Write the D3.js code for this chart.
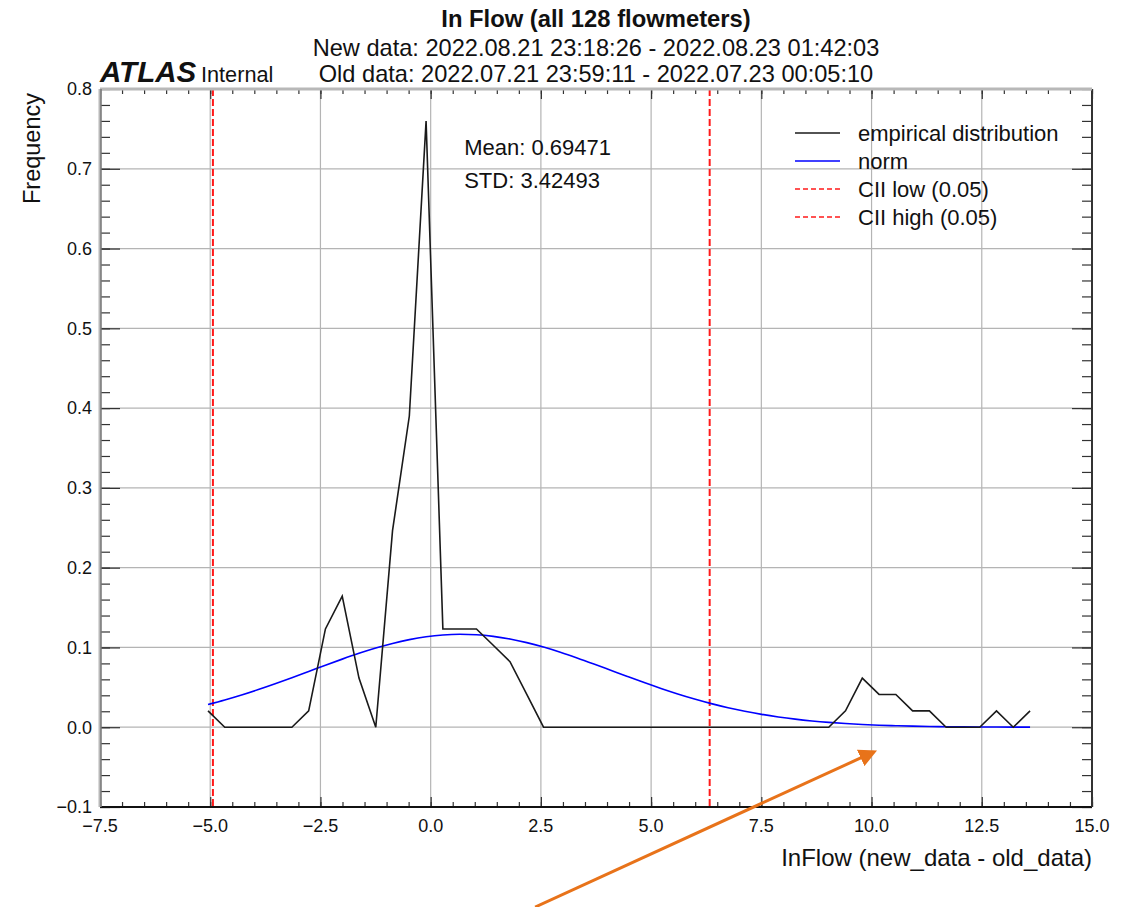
<!DOCTYPE html>
<html>
<head>
<meta charset="utf-8">
<script src="https://cdn.jsdelivr.net/npm/d3@7"></script>
<style>
  html, body { margin: 0; padding: 0; background: #fff; }
  svg text { font-family: "Liberation Sans", Arial, Helvetica, sans-serif; fill: #111; }
</style>
</head>
<body>
<svg id="chart" width="1132" height="907"></svg>
<script>
// Bin positions of the flow-difference histogram (InFlow new - old)
const binX = [
  -5.050, -4.670, -4.289, -3.909, -3.528, -3.148, -2.767, -2.387, -2.006, -1.626,
  -1.245, -0.865, -0.484, -0.104, 0.277, 0.658, 1.038, 1.419, 1.799, 2.180,
  2.560, 2.941, 3.321, 3.702, 4.082, 4.463, 4.843, 5.224, 5.604, 5.985,
  6.365, 6.746, 7.126, 7.507, 7.887, 8.268, 8.648, 9.029, 9.409, 9.790,
  10.170, 10.551, 10.931, 11.312, 11.692, 12.073, 12.453, 12.834, 13.214, 13.595
];

// Empirical frequency in each bin
const empirical = [
  0.0205, 0, 0, 0, 0, 0, 0.0205, 0.1232, 0.1643, 0.0616,
  0, 0.2464, 0.3901, 0.7597, 0.1232, 0.1232, 0.1232, 0.1027, 0.0821, 0.0411,
  0, 0, 0, 0, 0, 0, 0, 0, 0, 0,
  0, 0, 0, 0, 0, 0, 0, 0, 0.0205, 0.0616,
  0.0411, 0.0411, 0.0205, 0.0205, 0, 0, 0, 0.0205, 0, 0.0205
];

// Fitted normal density at the same positions
const normFit = [
  0.02853, 0.03416, 0.04041, 0.04720, 0.05447, 0.06208, 0.06989, 0.07771, 0.08536, 0.09259,
  0.09922, 0.10501, 0.10978, 0.11336, 0.11562, 0.11648, 0.11590, 0.11391, 0.11058, 0.10603,
  0.10043, 0.09394, 0.08681, 0.07922, 0.07142, 0.06359, 0.05594, 0.04859, 0.04170, 0.03533,
  0.02958, 0.02446, 0.01998, 0.01611, 0.01284, 0.01010, 0.00786, 0.00603, 0.00458, 0.00343,
  0.00254, 0.00185, 0.00134, 0.00095, 0.00067, 0.00047, 0.00032, 0.00022, 0.00015, 0.00010
];

const statMean = 0.69471;
const statStd = 3.42493;
const ciiLow = -4.9388;
const ciiHigh = 6.3282;

const xTicks = [-7.5, -5.0, -2.5, 0.0, 2.5, 5.0, 7.5, 10.0, 12.5, 15.0];
const yTicks = [-0.1, 0.0, 0.1, 0.2, 0.3, 0.4, 0.5, 0.6, 0.7, 0.8];

const legendLabels = ["empirical distribution", "norm", "CII low (0.05)", "CII high (0.05)"];

const titleText = "In Flow (all 128 flowmeters)";
const subtitleLines = [
  "New data: 2022.08.21 23:18:26 - 2022.08.23 01:42:03",
  "Old data: 2022.07.21 23:59:11 - 2022.07.23 00:05:10"
];

// ---------------------------------------------------------------
const svg = d3.select("#chart");
const M = { left: 100, right: 1092, top: 89, bottom: 807 };

const x = d3.scaleLinear().domain([-7.5, 15.0]).range([M.left, M.right]);
const y = d3.scaleLinear().domain([-0.1, 0.8]).range([M.bottom, M.top]);

// grid
const grid = svg.append("g");
grid.selectAll("line.gx").data(xTicks.slice(1, -1)).join("line")
  .attr("x1", d => x(d)).attr("x2", d => x(d))
  .attr("y1", M.top).attr("y2", M.bottom)
  .attr("stroke", "#b4b4b4").attr("stroke-width", 1.2);
grid.selectAll("line.gy").data(yTicks.slice(1, -1)).join("line")
  .attr("y1", d => y(d)).attr("y2", d => y(d))
  .attr("x1", M.left).attr("x2", M.right)
  .attr("stroke", "#b4b4b4").attr("stroke-width", 1.2);

// ticks: minor and major on all four sides, pointing inward
const xMinor = d3.range(-7.5, 15.001, 0.5);
const yMinor = d3.range(-0.1, 0.8001, 0.02);

function tickGroup(axis, tx, ty) {
  const g = svg.append("g").attr("transform", `translate(${tx},${ty})`).call(axis);
  g.select(".domain").remove();
  g.selectAll("line").attr("stroke", "#333").attr("stroke-width", 1.2);
  return g;
}
tickGroup(d3.axisBottom(x).tickValues(xMinor).tickSize(-5).tickFormat(""), 0, M.bottom);
tickGroup(d3.axisTop(x).tickValues(xMinor).tickSize(-5).tickFormat(""), 0, M.top);
tickGroup(d3.axisLeft(y).tickValues(yMinor).tickSize(-10).tickFormat(""), M.left, 0);
tickGroup(d3.axisRight(y).tickValues(yMinor).tickSize(-10).tickFormat(""), M.right, 0);
tickGroup(d3.axisBottom(x).tickValues(xTicks).tickSize(-10).tickFormat(""), 0, M.bottom);
tickGroup(d3.axisTop(x).tickValues(xTicks).tickSize(-10).tickFormat(""), 0, M.top);
tickGroup(d3.axisLeft(y).tickValues(yTicks).tickSize(-20).tickFormat(""), M.left, 0);
tickGroup(d3.axisRight(y).tickValues(yTicks).tickSize(-20).tickFormat(""), M.right, 0);

// tick labels
const fmt = d3.format(".1f");
const minus = s => s.replace("-", "\u2212");
svg.append("g").selectAll("text").data(xTicks).join("text")
  .attr("x", d => x(d)).attr("y", M.bottom + 25)
  .attr("text-anchor", "middle").attr("font-size", 18)
  .text(d => minus(fmt(d)));
svg.append("g").selectAll("text").data(yTicks).join("text")
  .attr("x", M.left - 8).attr("y", d => y(d)).attr("dy", "0.35em")
  .attr("text-anchor", "end").attr("font-size", 18)
  .text(d => minus(fmt(d)));

// CII limits
[ciiLow, ciiHigh].forEach(v => {
  svg.append("line")
    .attr("x1", x(v)).attr("x2", x(v)).attr("y1", M.top).attr("y2", M.bottom)
    .attr("stroke", "#ff1a1a").attr("stroke-width", 2).attr("stroke-dasharray", "7,3");
});

// curves
const pts = (vals) => binX.map((v, i) => [v, vals[i]]);
svg.append("path").datum(pts(normFit))
  .attr("d", d3.line().x(d => x(d[0])).y(d => y(d[1])).curve(d3.curveMonotoneX))
  .attr("fill", "none").attr("stroke", "#0000ff").attr("stroke-width", 1.6);
svg.append("path").datum(pts(empirical))
  .attr("d", d3.line().x(d => x(d[0])).y(d => y(d[1])))
  .attr("fill", "none").attr("stroke", "#1a1a1a").attr("stroke-width", 1.6);

// frame
svg.append("line").attr("x1", M.left).attr("x2", M.right).attr("y1", M.bottom).attr("y2", M.bottom)
  .attr("stroke", "#111").attr("stroke-width", 2);
svg.append("line").attr("x1", M.right).attr("x2", M.right).attr("y1", M.top).attr("y2", M.bottom)
  .attr("stroke", "#333").attr("stroke-width", 2);
svg.append("line").attr("x1", M.left).attr("x2", M.right).attr("y1", M.top).attr("y2", M.top)
  .attr("stroke", "#b8b8b8").attr("stroke-width", 3);
svg.append("line").attr("x1", M.left).attr("x2", M.left).attr("y1", M.top).attr("y2", M.bottom)
  .attr("stroke", "#b8b8b8").attr("stroke-width", 3);
svg.append("line").attr("x1", M.left + 1).attr("x2", M.left + 1).attr("y1", M.top).attr("y2", M.bottom)
  .attr("stroke", "#555").attr("stroke-width", 1);

// stats box
svg.append("text").attr("x", x(0.76)).attr("y", 155).attr("font-size", 22)
  .text(`Mean: ${statMean}`);
svg.append("text").attr("x", x(0.76)).attr("y", 188).attr("font-size", 22)
  .text(`STD: ${statStd}`);

// legend
const legendStyles = [
  { color: "#1a1a1a", dash: null },
  { color: "#0000ff", dash: null },
  { color: "#ff1a1a", dash: "5,3" },
  { color: "#ff1a1a", dash: "5,3" }
];
const lg = svg.append("g").attr("transform", "translate(795,133)");
legendLabels.forEach((lab, i) => {
  const row = lg.append("g").attr("transform", `translate(0,${i * 28})`);
  row.append("line").attr("x1", 0).attr("x2", 45).attr("y1", 0).attr("y2", 0)
    .attr("stroke", legendStyles[i].color).attr("stroke-width", 1.6)
    .attr("stroke-dasharray", legendStyles[i].dash);
  row.append("text").attr("x", 63).attr("y", 8).attr("font-size", 22).text(lab);
});

// titles
const cx = (M.left + M.right) / 2;
svg.append("text").attr("x", cx).attr("y", 27).attr("text-anchor", "middle")
  .attr("font-size", 23.8).attr("font-weight", "bold").text(titleText);
subtitleLines.forEach((t, i) => {
  svg.append("text").attr("x", cx).attr("y", 56 + i * 26).attr("text-anchor", "middle")
    .attr("font-size", 23.6).text(t);
});
svg.append("text").attr("x", M.left).attr("y", 82)
  .attr("font-size", 29.5).attr("font-weight", "bold").attr("font-style", "italic").text("ATLAS");
svg.append("text").attr("x", 201).attr("y", 82).attr("font-size", 21.7).text("Internal");

// axis titles
svg.append("text").attr("x", M.right).attr("y", 866).attr("text-anchor", "end")
  .attr("font-size", 24).text("InFlow (new_data - old_data)");
svg.append("text").attr("transform", `translate(40,${M.top + 4}) rotate(-90)`)
  .attr("text-anchor", "end").attr("font-size", 23.5).text("Frequency");

// annotation arrow
const defs = svg.append("defs");
defs.append("marker").attr("id", "arrowHead").attr("viewBox", "0 0 10 10")
  .attr("refX", 8).attr("refY", 5).attr("markerWidth", 6).attr("markerHeight", 6)
  .attr("orient", "auto").attr("markerUnits", "strokeWidth")
  .append("path").attr("d", "M0,0 L10,5 L0,10 Z").attr("fill", "#e8731a");
svg.append("line")
  .attr("x1", x(2.37)).attr("y1", y(-0.2254))
  .attr("x2", x(10.05)).attr("y2", y(-0.031))
  .attr("stroke", "#e8731a").attr("stroke-width", 3)
  .attr("marker-end", "url(#arrowHead)");
</script>
</body>
</html>
